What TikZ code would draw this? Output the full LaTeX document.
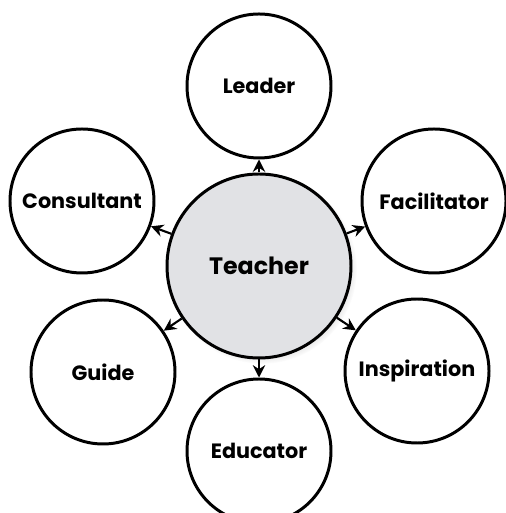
\documentclass[tikz,border=0pt]{standalone}
\usepackage{fontspec}
\setmainfont{Poppins}
\usetikzlibrary{arrows.meta,shadows}
\definecolor{hubgray}{RGB}{225,226,229}
\tikzset{
    role/.style={draw, circle, line width=1.7pt, minimum size=2.88cm, font=\bfseries\fontsize{11.8}{13}\selectfont},
    hub/.style={draw, circle, line width=1.7pt, minimum size=3.68cm, fill=hubgray, font=\bfseries\fontsize{13.5}{15}\selectfont,
        circular drop shadow={shadow xshift=0.06cm, shadow yshift=-0.06cm, opacity=0.35, shadow scale=1.03}},
    link/.style={line width=1.2pt, -{Stealth[length=7pt,width=7pt]}}
}
\begin{document}
\begin{tikzpicture}
    \useasboundingbox (-5.18,-4.94) rectangle (4.92,5.32);

    \node[hub, name=teacher] at (0,0) {Teacher};

    \node[role, name=leader] at (0,3.6) {Leader};
    \node[role, name=facilitator] at (3.5,1.3) {Facilitator};
    \node[role, name=inspiration] at (3.16,-2.1) {Inspiration};
    \node[role, name=educator] at (0,-3.7) {Educator};
    \node[role, name=guide] at (-3.12,-2.12) {Guide};
    \node[role, name=consultant] at (-3.54,1.3) {Consultant};

    \draw[link] (teacher) -- (leader);
    \draw[link] (teacher) -- (facilitator);
    \draw[link] (teacher) -- (inspiration);
    \draw[link] (teacher) -- (educator);
    \draw[link] (teacher) -- (guide);
    \draw[link] (teacher) -- (consultant);
\end{tikzpicture}
\end{document}
